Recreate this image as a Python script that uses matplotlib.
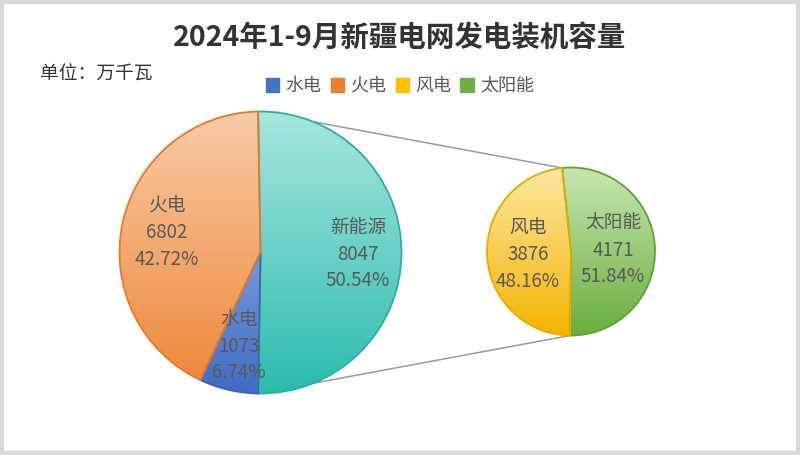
import numpy as np
import matplotlib.pyplot as plt
from matplotlib.patches import Wedge, Patch
from matplotlib.colors import LinearSegmentedColormap

plt.rcParams['font.family'] = ['Noto Sans CJK SC', 'DejaVu Sans']

# -----------------------------
# Data
# -----------------------------
title = "2024年1-9月新疆电网发电装机容量"
unit_text = "单位：万千瓦"
main_labels = ["新能源", "水电", "火电"]
main_values = [8047, 1073, 6802]
main_pcts = ["50.54%", "6.74%", "42.72%"]
sub_labels = ["太阳能", "风电"]
sub_values = [4171, 3876]
sub_pcts = ["51.84%", "48.16%"]
legend_labels = ["水电", "火电", "风电", "太阳能"]

# gradient colours (light top, dark bottom) and edge colour
grad = {
    "新能源": ("#a8e6de", "#2bbcad", "#2ab0a2"),
    "水电": ("#b3c6ee", "#3f6cc4", "#3e63b0"),
    "火电": ("#f8cba6", "#ee8636", "#e57a2a"),
    "风电": ("#fde7a3", "#f4b400", "#e8ab00"),
    "太阳能": ("#c6e7b0", "#6aae3f", "#5fa236"),
}
legend_colors = ["#4472c4", "#ed7d31", "#ffc000", "#70ad47"]

# -----------------------------
# Layout (pixel-like coordinates, y up)
# -----------------------------
W, H = 800, 455
big_c, big_r = (260.5, 202.5), 141
small_c, small_r = (571, 203.5), 84
small_start = 96

fig = plt.figure(figsize=(8, 4.55), dpi=100)
ax = fig.add_axes([0, 0, 1, 1])
ax.set_xlim(0, W)
ax.set_ylim(0, H)
ax.set_aspect('auto')
ax.axis('off')

# outer border
ax.add_patch(plt.Rectangle((0, 0), W, H, fill=False, ec="#d9d9d9", lw=6))

def gradient_wedge(center, r, t1, t2, key):
    top, bottom, edge = grad[key]
    w = Wedge(center, r, t1, t2, fc='none', ec='none')
    ax.add_patch(w)
    cmap = LinearSegmentedColormap.from_list(key, [bottom, top])
    g = np.linspace(0, 1, 256).reshape(-1, 1)
    im = ax.imshow(g, cmap=cmap, aspect='auto', origin='lower',
                   extent=[center[0] - r, center[0] + r, center[1] - r, center[1] + r],
                   zorder=2)
    im.set_clip_path(w)
    ax.add_patch(Wedge(center, r, t1, t2, fc='none', ec=edge, lw=1.3, zorder=3))

# big pie, clockwise; aggregated slice centred on the right
total = sum(main_values)
ang = 90 + (360 * main_values[0] / total - 180) / 2
big_angles = []
for lab, v in zip(main_labels, main_values):
    span = 360 * v / total
    gradient_wedge(big_c, big_r, ang - span, ang, lab)
    big_angles.append((ang - span, ang))
    ang -= span

# small pie
stot = sum(sub_values)
ang = small_start
small_angles = []
for lab, v in zip(sub_labels, sub_values):
    span = 360 * v / stot
    gradient_wedge(small_c, small_r, ang - span, ang, lab)
    small_angles.append((ang - span, ang))
    ang -= span

# connector lines
def pt(c, r, a):
    return c[0] + r * np.cos(np.radians(a)), c[1] + r * np.sin(np.radians(a))

ne_lo, ne_hi = big_angles[0]
s_lo, s_hi = small_angles[0]
for a_big, a_small in [(ne_hi, s_hi), (ne_lo, s_lo)]:
    p1 = pt(big_c, big_r, a_big)
    p2 = pt(small_c, small_r, a_small)
    ax.plot([p1[0], p2[0]], [p1[1], p2[1]], color="#999999", lw=1.1, zorder=1)

# labels
txt_kw = dict(ha='center', va='center', color="#595959", fontsize=13.5,
              linespacing=1.35, zorder=5)
label_pos = {
    "新能源": (358, 201), "水电": (239, 109), "火电": (167, 222),
    "风电": (528, 200), "太阳能": (613, 205),
}
for lab, v, p in zip(main_labels, main_values, main_pcts):
    ax.text(*label_pos[lab], f"{lab}\n{v}\n{p}", **txt_kw)
for lab, v, p in zip(sub_labels, sub_values, sub_pcts):
    ax.text(*label_pos[lab], f"{lab}\n{v}\n{p}", **txt_kw)

# title and unit
ax.text(400, H - 38, title, ha='center', va='center', fontsize=20.5,
        fontweight='bold', color="#333333")
ax.text(40, H - 74, unit_text, ha='left', va='center', fontsize=13.5, color="#333333")

# legend
handles = [Patch(fc=c, ec=c) for c in legend_colors]
fig.legend(handles, legend_labels, loc='center', bbox_to_anchor=(0.5, 1 - 86 / H),
           ncol=4, frameon=False, fontsize=13, handlelength=0.75, handleheight=0.8,
           handletextpad=0.35, columnspacing=0.5, labelcolor="#595959")

fig.savefig("out.png", dpi=100)
